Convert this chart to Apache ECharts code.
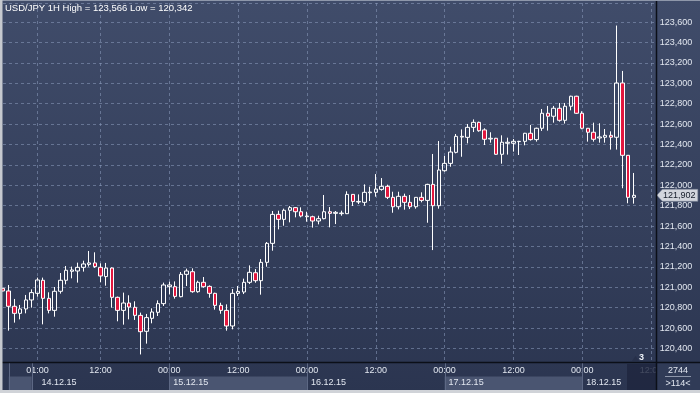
<!DOCTYPE html>
<html><head><meta charset="utf-8">
<script src="https://cdn.jsdelivr.net/npm/echarts@6/dist/echarts.min.js"></script>
<style>html,body{margin:0;padding:0;background:#2e3953;}#c{width:700px;height:393px;}</style>
</head><body><div id="c"></div>
<script>
const TITLE = 'USD/JPY 1H High = 123,566 Low = 120,342';
// hourly bars, index 0 = 13.12.15 19:00
const OPEN = [120990,120964,120814,120745,120788,120876,120941,121069,120892,120774,120961,121069,121157,121160,121196,121225,121239,121196,121105,121189,120902,120774,120846,120804,120725,120569,120696,120755,120840,121006,121006,120908,121127,121153,120957,121049,121009,120941,120823,120774,120621,120941,120954,121049,121143,121065,121245,121431,121715,121666,121755,121781,121741,121692,121692,121650,121673,121741,121725,121722,121722,121911,121836,121833,121927,121931,121960,121990,121882,121790,121892,121833,121790,121882,121852,122009,121800,122143,122215,122323,122473,122470,122568,122617,122543,122454,122461,122304,122412,122412,122428,122431,122510,122448,122559,122706,122677,122755,122637,122775,122873,122706,122559,122520,122464,122471,122490,122471,123003,122294,121882];
const CLOSE = [120964,120814,120745,120788,120876,120948,121072,120892,120774,120961,121069,121167,121170,121196,121229,121239,121203,121111,121189,120902,120774,120846,120807,120725,120565,120703,120758,120840,121023,121023,120911,121127,121160,120957,121049,121006,120941,120823,120774,120621,120941,120960,121049,121147,121065,121245,121431,121715,121666,121755,121781,121741,121699,121699,121650,121673,121741,121725,121735,121728,121911,121842,121842,121931,121934,121963,121990,121882,121790,121892,121833,121790,121882,121852,122009,121800,122150,122215,122326,122480,122480,122568,122617,122535,122451,122461,122304,122422,122422,122431,122431,122510,122448,122559,122706,122677,122755,122637,122775,122873,122706,122559,122520,122451,122474,122490,122471,123003,122294,121882,121902];
const LOW = [120960,120575,120654,120686,120745,120801,120908,120637,120745,120712,120938,121029,121088,121046,121154,121203,121190,121049,121016,120801,120667,120634,120686,120680,120342,120448,120647,120719,120817,120930,120889,120902,121013,120947,120947,120996,120898,120781,120741,120575,120588,120915,120934,121032,121045,120928,121202,121359,121568,121604,121637,121686,121686,121643,121585,121617,121666,121588,121620,121702,121718,121797,121816,121800,121846,121888,121947,121865,121731,121764,121761,121767,121771,121833,121633,121365,121771,122133,122182,122313,122280,122411,122522,122525,122395,122418,122300,122212,122301,122330,122297,122392,122438,122428,122533,122536,122614,122624,122605,122735,122700,122549,122428,122428,122418,122418,122350,122350,121971,121824,121820];
const HIGH = [120995,121023,120886,120827,120925,120980,121095,121095,120951,121003,121140,121209,121203,121242,121261,121356,121343,121235,121239,121195,120909,120948,120922,120863,120752,120739,120794,120872,121046,121055,121058,121150,121183,121186,121065,121101,121019,120947,120849,120833,120983,121013,121085,121215,121179,121277,121444,121748,121751,121771,121797,121787,121784,121741,121702,121702,121905,121787,121748,121751,121941,121914,121911,122009,121986,122110,122071,122006,121937,121937,121918,121905,121885,121931,122015,122307,122434,122287,122378,122503,122548,122601,122646,122624,122559,122520,122465,122490,122467,122454,122436,122514,122592,122565,122748,122778,122778,122807,122807,122878,122878,122726,122562,122614,122608,122552,122529,123566,123121,122297,122121];
const TICK_IDX = [6,17,29,41,53,65,77,89,101,113];
const DATE_LABELS = ['14.12.15','15.12.15','16.12.15','17.12.15','18.12.15'];
const DATE_LABEL_IDX = [6,29,53,77,101];
const BAND_START_IDX = [1,5,29,53,77,101];
const BAR_COUNT_TEXT = '2744';
const VISIBLE_TEXT = '>114<';
const SHIFT_TEXT = '3';

const pad = n => (n < 10 ? '0' : '') + n;
const CATS = [];
for (let i = 0; i < 115; i++) {
  const d = new Date(Date.UTC(2015, 11, 13, 19) + i * 3600e3);
  CATS.push(pad(d.getUTCDate()) + '.' + pad(d.getUTCMonth() + 1) + '.15 ' + pad(d.getUTCHours()) + ':00');
}
const fmt = v => {
  const s = Math.round(v).toString();
  return s.slice(0, s.length - 3) + ',' + s.slice(-3);
};
const candles = OPEN.map((o, i) => [o, CLOSE[i], LOW[i], HIGH[i]]);
const FONT = 'Liberation Sans';
const LABEL_COLOR = '#e2e7f0';
const GRID_LINE = { color: 'rgba(140,156,190,0.55)', type: [3, 3], width: 1 };

const chart = echarts.init(document.getElementById('c'), null, { renderer: 'canvas' });
chart.setOption({
  animation: false,
  backgroundColor: {
    type: 'linear', x: 0, y: 0, x2: 0, y2: 1,
    colorStops: [{ offset: 0, color: '#404c6a' }, { offset: 1, color: '#2b3550' }]
  },
  grid: { left: 3, right: 43.2, top: 3, bottom: 30.5, containLabel: false },
  xAxis: {
    type: 'category', data: CATS, boundaryGap: false,
    axisLine: { show: false }, axisTick: { show: false },
    axisLabel: {
      interval: i => TICK_IDX.includes(i),
      formatter: v => v.slice(9),
      color: LABEL_COLOR, fontSize: 9, fontFamily: FONT, margin: 4
    },
    splitLine: { show: true, interval: i => TICK_IDX.includes(i), lineStyle: GRID_LINE }
  },
  yAxis: {
    type: 'value', position: 'right', scale: true,
    min: 120263, max: 123787, minInterval: 200, maxInterval: 200, splitNumber: 18,
    axisLine: { show: false }, axisTick: { show: false },
    axisLabel: {
      margin: 3, color: LABEL_COLOR, fontSize: 9, fontFamily: FONT,
      showMinLabel: false, showMaxLabel: false,
      formatter: v => (v % 200 === 0 ? fmt(v) : '')
    },
    splitLine: { show: true, lineStyle: GRID_LINE }
  },
  series: [{
    type: 'candlestick', data: candles, barWidth: 4, clip: true,
    itemStyle: { color: 'rgba(0,0,0,0)', color0: '#e3173e', borderColor: '#ffffff', borderColor0: '#ffffff', borderWidth: 1 },
    emphasis: { disabled: true },
    markPoint: {
      symbol: 'path://M0,6L6,0L44,0L44,12L6,12Z', symbolSize: [41, 12], symbolKeepAspect: false,
      symbolOffset: [20.5, 0],
      itemStyle: { color: '#d2d5dd', borderColor: '#7f889c', borderWidth: 0.5 },
      label: { show: true, position: 'inside', offset: [2, 0.5], color: '#151c2a', fontSize: 9, fontFamily: FONT, formatter: p => fmt(p.value) },
      data: [{ coord: [CATS.length - 1, CLOSE[CLOSE.length - 1]], value: CLOSE[CLOSE.length - 1] }]
    }
  }]
});

// chrome drawn from the axis scale
const px = i => chart.convertToPixel({ xAxisIndex: 0 }, i);
const g = [];
const STRIP_TOP = 363, STRIP_BOT = 390, BAND_TOP = 376.5;
const BAND_END_PX = 627;
for (let k = 0; k < BAND_START_IDX.length; k++) {
  const x0 = px(BAND_START_IDX[k]);
  const x1 = k + 1 < BAND_START_IDX.length ? px(BAND_START_IDX[k + 1]) : BAND_END_PX;
  if (k % 2 === 0) {
    g.push({ type: 'rect', shape: { x: x0, y: BAND_TOP, width: x1 - x0, height: STRIP_BOT - BAND_TOP }, style: { fill: '#4a5571' }, z: 50 });
  }
  g.push({ type: 'line', shape: { x1: Math.round(x0) + 0.5, y1: STRIP_TOP, x2: Math.round(x0) + 0.5, y2: STRIP_BOT }, style: { stroke: '#5d6884', lineWidth: 1 }, z: 51 });
}
DATE_LABELS.forEach((t, k) => {
  g.push({ type: 'text', x: px(DATE_LABEL_IDX[k]) + 4, y: 383, style: { text: t, fill: LABEL_COLOR, font: '9px "' + FONT + '"', verticalAlign: 'middle', align: 'left' }, z: 52 });
});
// dark scroll box
g.push({ type: 'rect', shape: { x: BAND_END_PX, y: 364, width: 656.5 - BAND_END_PX, height: STRIP_BOT - 364 }, style: { fill: 'rgba(30,38,62,0.82)' }, z: 60 });
// right bottom panel
g.push({ type: 'rect', shape: { x: 657, y: 363, width: 43, height: 27 }, style: { fill: '#303b57' }, z: 60 });
g.push({ type: 'text', x: 678, y: 371, style: { text: BAR_COUNT_TEXT, fill: LABEL_COLOR, font: '9px "' + FONT + '"', align: 'center', verticalAlign: 'middle' }, z: 61 });
g.push({ type: 'line', shape: { x1: 665, y1: 376.5, x2: 691, y2: 376.5 }, style: { stroke: '#8d96aa', lineWidth: 1 }, z: 61 });
g.push({ type: 'text', x: 678, y: 383.5, style: { text: VISIBLE_TEXT, fill: LABEL_COLOR, font: '9px "' + FONT + '"', align: 'center', verticalAlign: 'middle' }, z: 61 });
// shift indicator
g.push({ type: 'polygon', shape: { points: [[632, 361], [635.5, 356], [639, 361]] }, style: { fill: '#27304a' }, z: 61 });
g.push({ type: 'text', x: 641.5, y: 357.5, style: { text: SHIFT_TEXT, fill: '#eef2f8', font: 'bold 9px "' + FONT + '"', align: 'center', verticalAlign: 'middle' }, z: 61 });
// frame lines
g.push({ type: 'line', shape: { x1: 0, y1: 362.5, x2: 700, y2: 362.5 }, style: { stroke: '#0b0f18', lineWidth: 1.5 }, z: 70 });
g.push({ type: 'line', shape: { x1: 656.5, y1: 0, x2: 656.5, y2: 390 }, style: { stroke: '#0b0f18', lineWidth: 1.5 }, z: 70 });
g.push({ type: 'rect', shape: { x: 0, y: 0, width: 700, height: 1 }, style: { fill: '#8e97aa' }, z: 70 });
g.push({ type: 'rect', shape: { x: 0, y: 0, width: 2.5, height: 393 }, style: { fill: '#c6c9cf' }, z: 70 });
g.push({ type: 'rect', shape: { x: 0, y: 390, width: 700, height: 3 }, style: { fill: '#d0d3d8' }, z: 70 });
// title
g.push({ type: 'text', x: 5, y: 8, style: { text: TITLE, fill: '#ffffff', font: '9.5px "' + FONT + '"', verticalAlign: 'middle' }, z: 70 });
chart.setOption({ graphic: g });
</script></body></html>
